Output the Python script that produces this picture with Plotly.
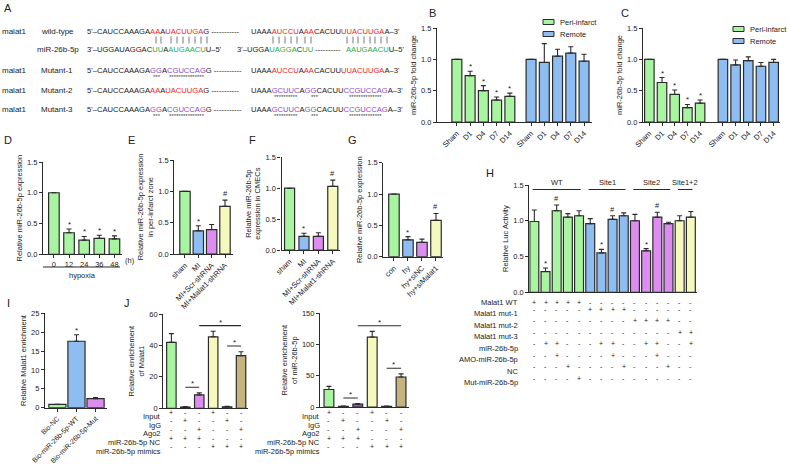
import plotly.graph_objects as go

W, H = 787, 467


def px(x):
    return x / W


def py(y):
    return 1 - y / H


GREEN = '#a8f4a1'
BLUE = '#8ebdf2'
PURPLE = '#dd8cf0'
YELLOW = '#f6f9bd'
TAN = '#c6b47e'
DARKPUR = '#9c55b8'
EDGE = '#2b2b2b'
RED = '#f21d1d'
GRN = '#22b04a'
PUR = '#8a4cc6'
FONT = 'Liberation Sans, Arial, sans-serif'

# ---------------- data ----------------
b_days = ['Sham', 'D1', 'D4', 'D7', 'D14']
b_peri = [1.0, 0.74, 0.50, 0.35, 0.41]
b_peri_err = [0, 0.07, 0.08, 0.05, 0.05]
b_peri_sig = ['', '*', '*', '*', '*']
b_remote = [1.0, 0.95, 1.05, 1.10, 0.97]
b_remote_err = [0, 0.30, 0.11, 0.10, 0.11]

c_peri = [1.0, 0.63, 0.44, 0.23, 0.30]
c_peri_err = [0, 0.08, 0.07, 0.05, 0.05]
c_peri_sig = ['', '*', '*', '*', '*']
c_remote = [1.0, 0.91, 0.98, 0.89, 0.95]
c_remote_err = [0, 0.08, 0.06, 0.06, 0.05]

d_hours = ['0', '12', '24', '36', '48']
d_vals = [1.0, 0.35, 0.23, 0.26, 0.25]
d_err = [0, 0.06, 0.06, 0.05, 0.05]
d_sig = ['', '*', '*', '*', '*']

e_groups = ['sham', 'MI', 'MI+Scr-shRNA', 'MI+Malat1-shRNA']
e_vals = [1.0, 0.37, 0.39, 0.76]
e_err = [0, 0.08, 0.08, 0.10]
e_sig = ['', '*', '', '#']

f_groups = ['sham', 'MI', 'MI+Scr-shRNA', 'MI+Malat1-shRNA']
f_vals = [1.0, 0.22, 0.22, 1.03]
f_err = [0, 0.05, 0.06, 0.10]
f_sig = ['', '*', '', '#']

g_groups = ['con', 'hy', 'hy+siNC', 'hy+siMalat1']
g_vals = [1.0, 0.27, 0.23, 0.58]
g_err = [0, 0.05, 0.05, 0.11]
g_sig = ['', '*', '', '#']

h_vals = [0.99, 0.29, 1.14, 1.05, 1.07, 0.96, 0.55, 1.02, 1.07, 1.00, 0.58, 1.05, 0.96, 1.00, 1.05]
h_err = [0.16, 0.05, 0.08, 0.05, 0.07, 0.07, 0.05, 0.05, 0.04, 0.09, 0.03, 0.07, 0.02, 0.07, 0.08]
h_sig = ['', '*', '#', '', '', '', '*', '#', '', '', '*', '#', '', '', '']
h_groups = [('WT', 0, 4), ('Site1', 5, 8), ('Site2', 9, 12), ('Site1+2', 13, 14)]
h_rows = ['Malat1 WT', 'Malat1 mut-1', 'Malat1 mut-2', 'Malat1 mut-3',
          'miR-26b-5p', 'AMO-miR-26b-5p', 'NC', 'Mut-miR-26b-5p']
h_table = ['+++++----------',
           '-----++++------',
           '---------++++--',
           '-------------++',
           '-++---++--++--+',
           '--+----+---+---',
           '---+----+---+--',
           '----+----------']

i_groups = ['Bio-NC', 'Bio-miR-26b-5p-WT', 'Bio-miR-26b-5p-Mut']
i_vals = [0.9, 17.6, 2.4]
i_err = [0, 1.7, 0.3]
i_sig = ['', '*', '']

j_rows = ['Input', 'IgG', 'Ago2', 'miR-26b-5p NC', 'miR-26b-5p mimics']
j_table = ['+--+--', '-+--+-', '--+--+', '+++---', '---+++']
j_brackets = [(1, 2), (4, 5), (2, 5)]
j1_vals = [42, 0.8, 8.5, 45.5, 1.0, 33.5]
j1_err = [5.5, 0.3, 1.3, 3.5, 0.3, 2.5]
j2_vals = [28, 1.0, 4.5, 112, 1.0, 48]
j2_err = [5, 0.5, 1.0, 9, 0.5, 5]

# ---------------- figure ----------------
fig = go.Figure()
layout = dict(width=W, height=H, autosize=False, template='none',
              margin=dict(l=0, r=0, t=0, b=0, pad=0),
              paper_bgcolor='white', plot_bgcolor='white', showlegend=False,
              font=dict(family=FONT, size=8, color='#222'),
              annotations=[], shapes=[])
ann = layout['annotations']
shapes = layout['shapes']


def text(x, y, t, size=8, xanchor='left', yanchor='middle', color='#222', **kw):
    ann.append(dict(x=px(x), y=py(y), xref='paper', yref='paper', text=t, showarrow=False,
                    xanchor=xanchor, yanchor=yanchor, borderpad=0,
                    font=dict(size=size, color=color, family=FONT), **kw))


def panel(n, box, xr, yr, dtick, yfmt, ytitle, tickvals=None, ticktext=None, tickangle=-45, xfont=7.5):
    x0, x1, y0, y1 = box
    s = '' if n == 1 else str(n)
    xa = dict(domain=[px(x0), px(x1)], anchor='y' + s, range=xr, showline=True, linecolor=EDGE,
              linewidth=1.2, showgrid=False, zeroline=False, fixedrange=True, automargin=False)
    if tickvals is not None:
        xa.update(tickmode='array', tickvals=tickvals, ticktext=ticktext, ticks='outside', ticklen=3,
                  tickwidth=1, tickcolor=EDGE, tickangle=tickangle, tickfont=dict(size=xfont))
    else:
        xa.update(showticklabels=False, ticks='')
    ya = dict(domain=[py(y1), py(y0)], anchor='x' + s, range=yr, showline=True, linecolor=EDGE,
              linewidth=1.2, showgrid=False, zeroline=False, ticks='outside', ticklen=3, tickwidth=1,
              tickcolor=EDGE, dtick=dtick, tick0=0, tickformat=yfmt, tickfont=dict(size=7.5),
              title=dict(text=ytitle, font=dict(size=7.5), standoff=3), fixedrange=True,
              automargin=False)
    layout['xaxis' + s] = xa
    layout['yaxis' + s] = ya
    return s


def bars(s, xs, vals, err, colors, width, sig=None):
    fig.add_trace(go.Bar(x=xs, y=vals, width=width, xaxis='x' + s, yaxis='y' + s,
                         marker=dict(color=colors, line=dict(color=EDGE, width=1.2)),
                         error_y=dict(type='data', symmetric=False, array=err, arrayminus=[0] * len(err),
                                      color=EDGE, thickness=1.1, width=2.5)))
    if sig:
        for x, v, e, m in zip(xs, vals, err, sig):
            if m:
                ann.append(dict(x=x, y=v + e, xref='x' + s, yref='y' + s, text=m, showarrow=False,
                                yanchor='bottom', yshift=-1 if m == '*' else 1, borderpad=0,
                                font=dict(size=8 if m == '*' else 7.5, color='#222')))


def table(s, rows, cells, y0, dy, labx, size=7):
    for r, (lab, row) in enumerate(zip(rows, cells)):
        yy = y0 + r * dy
        text(labx, yy, lab, size=7.5, xanchor='right')
        for i, ch in enumerate(row):
            ann.append(dict(x=i, y=py(yy), xref='x' + s, yref='paper', text=ch, showarrow=False,
                            borderpad=0, font=dict(size=size, color='#222')))


# ---- B ----
b_pos = [i for i in range(5)] + [5.6 + i for i in range(5)]
s = panel(1, (437, 592, 28, 122), [-1.5, 10.2], [0, 1.5], 0.5, '.1f', 'miR-26b-5p fold change',
          b_pos, b_days * 2)
bars(s, b_pos[:5], b_peri, b_peri_err, GREEN, 0.75, b_peri_sig)
bars(s, b_pos[5:], b_remote, b_remote_err, BLUE, 0.75)

# ---- C ----
c_pos = [i for i in range(5)] + [5.8 + i for i in range(5)]
s = panel(2, (643, 780, 28, 122), [-0.5, 10.3], [0, 1.5], 0.5, '.1f', 'miR-26b-5p fold change',
          c_pos, b_days * 2)
bars(s, c_pos[:5], c_peri, c_peri_err, GREEN, 0.75, c_peri_sig)
bars(s, c_pos[5:], c_remote, c_remote_err, BLUE, 0.75)

# legends of B and C
for lx, ly in [(543, 22), (733, 29)]:
    for k, (lab, col) in enumerate([('Peri-infarct', GREEN), ('Remote', BLUE)]):
        yy = ly + k * 12
        shapes.append(dict(type='rect', xref='paper', yref='paper', x0=px(lx), x1=px(lx + 11),
                           y0=py(yy + 2.5), y1=py(yy - 2.5), fillcolor=col, line=dict(color=EDGE, width=1)))
        text(lx + 16, yy, lab, size=7.5)

# ---- D ----
d_pos = list(range(5))
s = panel(3, (43, 122, 162, 254.3), [-0.72, 4.5], [0, 1.5], 0.5, '.1f', 'Relative miR-26b-5p expression',
          d_pos, d_hours, tickangle=0)
bars(s, d_pos, d_vals, d_err, GREEN, 0.7, d_sig)
text(124, 260, '(h)', size=7.5)
shapes.append(dict(type='line', xref='paper', yref='paper', x0=px(43), x1=px(120), y0=py(267), y1=py(267),
                   line=dict(color=EDGE, width=1.2)))
text(82, 275, 'hypoxia', size=7.5, xanchor='center')

# ---- E ----
e_pos = list(range(4))
s = panel(4, (174.3, 233, 160, 254), [-0.8, 3.6], [0, 1.5], 0.5, '.1f',
          'Relative miR-26b-5p expression<br>in per-infarct zone', e_pos, e_groups)
bars(s, e_pos, e_vals, e_err, [GREEN, BLUE, PURPLE, YELLOW], 0.78, e_sig)

# ---- F ----
s = panel(5, (281.5, 340, 157.3, 250), [-0.56, 3.5], [0, 1.5], 0.5, '.1f',
          'Relative miR-26b-5p<br>expression in CMECs', e_pos, f_groups)
bars(s, e_pos, f_vals, f_err, [GREEN, BLUE, PURPLE, YELLOW], 0.7, f_sig)

# ---- G ----
s = panel(6, (383.3, 443, 162.7, 256.7), [-0.76, 3.5], [0, 1.5], 0.5, '.1f',
          'Relative miR-26b-5p expression', e_pos, g_groups)
bars(s, e_pos, g_vals, g_err, [GREEN, BLUE, PURPLE, YELLOW], 0.75, g_sig)

# ---- H ----
h_pos = list(range(len(h_vals)))
h_cols = [GREEN] * 5 + [BLUE] * 4 + [PURPLE] * 4 + [YELLOW] * 2
s = panel(7, (529.3, 697, 185, 292.3), [-0.45, 14.55], [0, 1.5], 0.5, '.1f', 'Relative Luc Activity')
bars(s, h_pos, h_vals, h_err, h_cols, 0.8, h_sig)
for lab, a, b in h_groups:
    shapes.append(dict(type='line', xref='x7', yref='paper', x0=a - 0.15, x1=b + 0.15,
                       y0=py(189.5), y1=py(189.5), line=dict(color=EDGE, width=1.2)))
    ann.append(dict(x=(a + b) / 2, y=py(188.5), xref='x7', yref='paper', text=lab, showarrow=False,
                    yanchor='bottom', borderpad=0, font=dict(size=7.5, color='#222')))
table(s, h_rows, h_table, 302.3, 11.5, 519)

# ---- I ----
i_pos = list(range(3))
s = panel(8, (45, 107, 313.3, 407.7), [-0.65, 2.6], [0, 25], 5, 'd', 'Relative Malat1 enrichment',
          i_pos, i_groups, xfont=7)
bars(s, i_pos, i_vals, i_err, [GREEN, BLUE, PURPLE], 0.9, i_sig)


# ---- J ----
def jpanel(n, box, xr, ymax, dtick, vals, err, cols, ytitle, labx):
    s = panel(n, box, xr, [0, ymax], dtick, 'd', ytitle)
    pos = list(range(len(vals)))
    bars(s, pos, vals, err, cols, 0.68)
    pad = ymax * 0.06
    for a, b in j_brackets:
        top = max(v + e for v, e in zip(vals[a:b + 1], err[a:b + 1])) + pad
        shapes.append(dict(type='line', xref='x' + s, yref='y' + s, x0=a, x1=b, y0=top, y1=top,
                           line=dict(color=EDGE, width=1.1)))
        ann.append(dict(x=(a + b) / 2, y=top, xref='x' + s, yref='y' + s, text='*', showarrow=False,
                        yanchor='bottom', yshift=-2, borderpad=0, font=dict(size=8, color='#222')))
    table(s, j_rows, j_table, 416.5, 8.7, labx)


jpanel(9, (163.3, 248, 314, 408.3), [-0.58, 5.5], 60, 20, j1_vals, j1_err,
       [GREEN, '#6a3a6a', PURPLE, YELLOW, '#6a3a6a', TAN], 'Relative enrichement<br>of Malat1', 162)
jpanel(10, (320, 409, 313.3, 407), [-0.62, 5.55], 150, 50, j2_vals, j2_err,
       [GREEN, '#6a3a6a', DARKPUR, YELLOW, '#6a3a6a', TAN], 'Relative enrichement<br>of miR-26b-5p', 321)


# ---- A: sequences ----
def seq(parts):
    out = ''
    for t, c in parts:
        out += t if c is None else '<span style="color:%s">%s</span>' % (c, t)
    return out


dash = ' -----------'
a_left_wt = [("5'–CAUCCAAAGA", None), ('AA', RED), ('A', None), ('UACUUGA', RED), ('G', None), (dash, None)]
a_left_mut = [("5'–CAUCCAAAGA", None), ('GG', PUR), ('A', None), ('CGUCCAG', PUR), ('G', None), (dash, None)]
a_right_wt = [('UAAA', None), ('AUCCU', RED), ('A', None), ('AA', RED), ('CACUU', None), ('UUACUUGA', RED),
              ("A–3'", None)]
a_right_mut = [('UAAA', None), ('GCUUC', PUR), ('A', None), ('GG', PUR), ('CACUU', None), ('CCGUCCAG', PUR),
               ("A–3'", None)]
a_mir_1 = [("3'–UGGAUAGGAC", None), ('UU', GRN), ('A', None), ('AUGAACU', GRN), ("U–5'", None)]
a_mir_2 = [("3'–UGGA", None), ('UAGGA', GRN), ('C', None), ('UU', GRN), (' ----------', None)]
a_mir_3 = [('AAUGAACU', GRN), ("U–5'", None)]

a_rows = [(31, 'malat1', 'wild-type', a_left_wt, a_right_wt),
          (70, 'malat1', 'Mutant-1', a_left_mut, a_right_wt),
          (90, 'malat1', 'Mutant-2', a_left_wt, a_right_mut),
          (109, 'malat1', 'Mutant-3', a_left_mut, a_right_mut)]
for yy, l1, l2, left, right in a_rows:
    text(1, yy, l1)
    text(40, yy, l2)
    text(86, yy, seq(left), size=7.6)
    text(250, yy, seq(right), size=7.6)
text(36, 49, 'miR-26b-5p')
text(86, 49, seq(a_mir_1), size=7.6)
text(236, 49, seq(a_mir_2), size=7.6)
text(345, 49, seq(a_mir_3), size=7.6)
# base pairing ticks
a_pairs = [156, 161, 171, 177, 183, 189, 195, 201, 207,
           273, 279, 285, 291, 297, 305, 311,
           347, 353, 358, 364, 370, 375, 381, 387]
for xx in a_pairs:
    shapes.append(dict(type='line', xref='paper', yref='paper', x0=px(xx), x1=px(xx),
                       y0=py(36.5), y1=py(43.5), line=dict(color='#555', width=0.8)))
# mutation stars
for yy in (77, 116):
    text(152, yy, '***', size=6, color='#444')
    text(168, yy, '*' * 15, size=6, color='#444')
for yy in (97, 116):
    text(273, yy, '*' * 10, size=6, color='#444')
    text(310, yy, '***', size=6, color='#444')
    text(348, yy, '*' * 14, size=6, color='#444')

# panel letters
for lab, x, y in [('A', 3, 8), ('B', 428, 13), ('C', 620, 13), ('D', 3, 140), ('E', 127, 140),
                  ('F', 248, 140), ('G', 347, 140), ('H', 485, 173), ('I', 6, 303), ('J', 123, 303)]:
    text(x, y, lab, size=11)

fig.update_layout(**layout)
fig.write_html('out.html', config={'displayModeBar': False},
               post_script="document.body.style.margin='0px';")
